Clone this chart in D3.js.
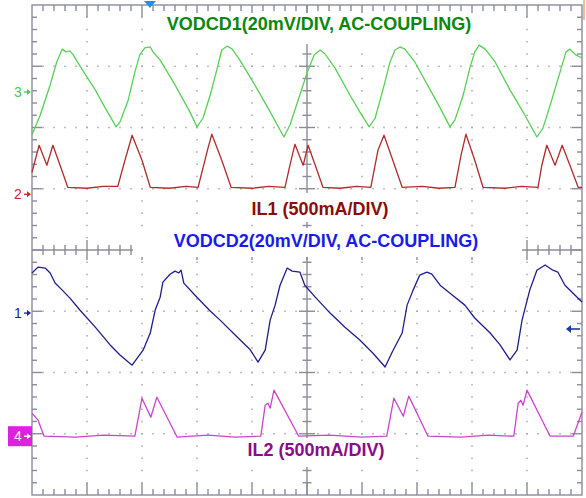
<!DOCTYPE html>
<html lang="en">
<head>
<meta charset="UTF-8">
<title>VODCD / IL scope capture</title>
<script src="https://d3js.org/d3.v7.min.js"></script>
<style>
  body { margin: 0; background: #fff; }
  svg { display: block; font-family: "Liberation Sans", Arial, sans-serif; }
  .lbl { font-weight: bold; font-size: 18px; text-anchor: middle; }
  .trace { fill: none; stroke-width: 1.3px; stroke-linejoin: round; }
</style>
</head>
<body>
<div id="scope"></div>
<script>
// time in divisions (10 div on screen), values relative to each channel marker
// CH3 VODCD1, mV
const ch3Time = [0, 0.15, 0.33, 0.45, 0.55, 0.62, 0.69, 0.75, 0.87, 1.15, 1.33, 1.53, 1.6, 1.75, 1.87, 1.96, 2.05, 2.15, 2.2, 2.33,
  2.6, 2.87, 3.0, 3.11, 3.24, 3.36, 3.45, 3.55, 3.64, 3.78, 4.05, 4.33, 4.58, 4.69, 4.84, 5.0, 5.13, 5.24, 5.33, 5.51,
  5.78, 5.96, 6.13, 6.24, 6.38, 6.51, 6.6, 6.69, 6.78, 6.96, 7.24, 7.42, 7.6, 7.69, 7.84, 7.96, 8.05, 8.13, 8.24, 8.42,
  8.69, 8.96, 9.18, 9.29, 9.45, 9.6, 9.71, 9.78, 9.89, 10];
const ch3mV = [-14.0, -7.5, 2.3, 9.8, 14.0, 13.1, 13.4, 12.1, 8.5, 0.7, -5.2, -11.4, -9.8, -2.6, 6.5, 12.1, 14.4, 14.7, 13.1, 10.4,
  2.3, -6.5, -11.4, -8.5, -1.0, 7.2, 13.7, 15.0, 14.0, 10.4, 2.3, -6.5, -14.7, -10.8, -2.6, 6.2, 12.1, 13.7, 12.4, 7.8,
  -1.0, -6.5, -11.4, -8.5, 0.7, 9.8, 13.7, 14.7, 14.0, 9.8, 0.7, -5.2, -11.4, -9.1, -1.0, 7.8, 13.1, 15.3, 14.0, 9.8,
  0.7, -7.5, -14.7, -11.8, -2.6, 6.5, 13.1, 14.0, 12.1, 11.1];

// CH2 IL1, mA
const ch2Time = [0, 0.13, 0.2, 0.27, 0.38, 0.51, 0.65, 1.0, 1.3, 1.56, 1.69, 1.82, 2.0, 2.15, 2.5, 2.8, 3.02, 3.2, 3.27, 3.45,
  3.62, 4.0, 4.3, 4.6, 4.69, 4.78, 4.93, 5.02, 5.15, 5.29, 5.6, 5.9, 6.16, 6.29, 6.4, 6.56, 6.73, 7.1, 7.4, 7.69,
  7.8, 7.89, 8.05, 8.2, 8.6, 8.9, 9.2, 9.27, 9.36, 9.51, 9.64, 9.78, 9.93, 10];
const ch2mA = [180, 400, 318, 237, 400, 237, 57, 49, 65, 65, 278, 482, 278, 57, 49, 65, 57, 376, 490, 278,
  57, 49, 65, 57, 237, 408, 237, 400, 237, 57, 49, 65, 57, 359, 482, 278, 57, 65, 49, 57,
  318, 490, 278, 57, 49, 65, 57, 237, 400, 237, 400, 237, 57, 57];

// CH1 VODCD2, mV
const ch1Time = [0, 0.11, 0.24, 0.33, 0.42, 0.55, 0.69, 0.87, 1.15, 1.42, 1.6, 1.75, 1.82, 2.02, 2.15, 2.24, 2.33, 2.38, 2.51, 2.6,
  2.67, 2.71, 2.76, 2.96, 3.24, 3.42, 3.73, 3.96, 4.11, 4.24, 4.33, 4.42, 4.51, 4.64, 4.73, 4.87, 4.96, 5.15, 5.42, 5.69,
  5.96, 6.2, 6.42, 6.55, 6.73, 6.82, 6.93, 7.05, 7.18, 7.27, 7.42, 7.64, 7.87, 8.05, 8.33, 8.51, 8.69, 8.82, 8.91, 9.05,
  9.18, 9.33, 9.47, 9.56, 9.69, 9.87, 10];
const ch1mV = [13.1, 15.0, 14.7, 13.1, 9.8, 7.5, 4.9, 1.0, -4.6, -10.4, -13.7, -16.0, -17.0, -12.1, -6.5, 1.0, 5.2, 10.1, 12.7, 13.7,
  13.1, 14.0, 9.8, 5.9, 0.7, -2.3, -7.8, -11.8, -16.0, -12.1, -2.3, 2.6, 9.1, 14.7, 13.7, 13.4, 9.1, 5.2, 0, -4.6,
  -8.8, -13.1, -17.6, -12.7, -6.5, 2.6, 7.5, 12.4, 13.4, 12.7, 9.1, 5.9, 2.6, -1.6, -6.5, -10.4, -15.3, -12.1, -2.3, 7.5,
  14.0, 15.7, 14.0, 13.4, 9.1, 5.9, 3.6];

// CH4 IL2, mA
const ch4Time = [0, 0.11, 0.22, 0.8, 1.3, 1.87, 2.0, 2.16, 2.27, 2.64, 3.2, 3.7, 4.16, 4.24, 4.29, 4.33, 4.4, 4.85, 5.4, 6.0,
  6.45, 6.58, 6.75, 6.85, 7.2, 7.8, 8.3, 8.76, 8.84, 8.89, 8.93, 9.0, 9.42, 9.84, 10];
const ch4mA = [188, 131, 0, -8, 8, 0, 310, 155, 318, -8, 8, -8, 0, 253, 269, 229, 376, 0, 8, -8,
  0, 310, 163, 327, 0, -8, 8, 0, 269, 294, 253, 376, 0, 0, 196];

const chNames = ["VODCD1(20mV/DIV, AC-COUPLING)", "IL1 (500mA/DIV)", "VODCD2(20mV/DIV, AC-COUPLING)", "IL2 (500mA/DIV)"];
const chNumbers = ["3", "2", "1", "4"];
const chOffsetDiv = [2.58, 0.91, -1.03, -3.04];
const chPerDiv = [20, 500, 20, 500];

const width = 586, height = 498;
const x = d3.scaleLinear().domain([0, 10]).range([32, 582]);
const y = d3.scaleLinear().domain([-4, 4]).range([495, 5]);

const svg = d3.select("#scope").append("svg")
    .attr("width", width)
    .attr("height", height);

const gridCol = "#8a8c9c";
const dotCol = "#a6a6ae";

// dotted graticule
const dots = svg.append("g").attr("fill", dotCol);
for (let j = -3; j <= 3; j++) {
    if (j === 0) continue;
    for (let k = 1; k < 50; k++) {
        dots.append("rect").attr("x", x(k / 5) - 0.75).attr("y", y(j) - 0.75).attr("width", 1.5).attr("height", 1.5);
    }
}
for (let i = 1; i <= 9; i++) {
    if (i === 5) continue;
    for (let m = 1; m < 40; m++) {
        dots.append("rect").attr("x", x(i) - 0.75).attr("y", y(-4 + m / 5) - 0.75).attr("width", 1.5).attr("height", 1.5);
    }
}

// frame, centre axes and ticks
const frame = svg.append("g").attr("stroke", gridCol).attr("stroke-width", 1.4).attr("fill", "none");
frame.append("rect").attr("x", x(0)).attr("y", y(4)).attr("width", x(10) - x(0)).attr("height", y(-4) - y(4));
frame.append("line").attr("x1", x(5)).attr("x2", x(5)).attr("y1", y(4)).attr("y2", y(-4));
frame.append("line").attr("x1", x(0)).attr("x2", x(10)).attr("y1", y(0)).attr("y2", y(0));
for (let k = 1; k < 50; k++) {
    const major = k % 5 === 0;
    const xx = x(k / 5);
    const a = major ? 12 : 6;
    frame.append("line").attr("x1", xx).attr("x2", xx).attr("y1", y(4)).attr("y2", y(4) + a);
    frame.append("line").attr("x1", xx).attr("x2", xx).attr("y1", y(-4)).attr("y2", y(-4) - a);
    const c = major ? 10 : 5;
    frame.append("line").attr("x1", xx).attr("x2", xx).attr("y1", y(0) - c).attr("y2", y(0) + c);
}
for (let m = 1; m < 40; m++) {
    const major = m % 5 === 0;
    const yy = y(-4 + m / 5);
    const a = major ? 10 : 5;
    frame.append("line").attr("x1", x(0)).attr("x2", x(0) + a).attr("y1", yy).attr("y2", yy);
    frame.append("line").attr("x1", x(10)).attr("x2", x(10) - a).attr("y1", yy).attr("y2", yy);
    const c = major ? 8 : 4.5;
    frame.append("line").attr("x1", x(5) - c).attr("x2", x(5) + c).attr("y1", yy).attr("y2", yy);
}

// white label panels hide the graticule under the titles
const panels = [[158, 13, 328, 31], [236, 193, 168, 29], [133, 228, 389, 29], [234, 438, 168, 29]];
svg.append("g").selectAll("rect").data(panels).join("rect")
    .attr("x", d => d[0]).attr("y", d => d[1]).attr("width", d => d[2]).attr("height", d => d[3])
    .attr("fill", "#fff");

// traces
const traces = [
    {t: ch3Time, v: ch3mV, color: "#58d058"},
    {t: ch2Time, v: ch2mA, color: "#b02c2c"},
    {t: ch1Time, v: ch1mV, color: "#1e1e8e"},
    {t: ch4Time, v: ch4mA, color: "#cc44cc"}
];
traces.forEach((tr, i) => {
    const pts = tr.t.map((t, n) => [t, tr.v[n]]);
    const line = d3.line()
        .x(d => x(d[0]))
        .y(d => y(chOffsetDiv[i] + d[1] / chPerDiv[i]));
    svg.append("path").datum(pts).attr("class", "trace").attr("stroke", tr.color).attr("d", line);
});

// channel titles
const titleCols = ["#0b870b", "#8a0c0c", "#1a1aee", "#8a0c8a"];
const titlePos = [[319, 30], [320, 215], [326, 247], [316, 456]];
chNames.forEach((s, i) => {
    svg.append("text").attr("class", "lbl")
        .attr("x", titlePos[i][0]).attr("y", titlePos[i][1])
        .attr("fill", titleCols[i]).text(s);
});

// ground / reference markers on the left
const markCols = ["#4cc84c", "#cc2a2a", "#22228e", "#e020e0"];
chNumbers.forEach((s, i) => {
    const yy = y(chOffsetDiv[i]);
    const g = svg.append("g");
    let fg = markCols[i];
    if (s === "4") {
        g.append("rect").attr("x", 8).attr("y", yy - 10).attr("width", 24).attr("height", 20).attr("fill", markCols[i]);
        fg = "#fff";
    }
    g.append("text").attr("x", 18).attr("y", yy + 5).attr("text-anchor", "middle")
        .attr("font-size", 14).attr("fill", fg).text(s);
    g.append("line").attr("x1", 24).attr("x2", 29).attr("y1", yy).attr("y2", yy).attr("stroke", fg).attr("stroke-width", 1.3);
    g.append("path").attr("d", `M31,${yy}L27,${yy - 3}L27,${yy + 3}Z`).attr("fill", fg);
});

// trigger marker on top and level arrow on the right
svg.append("path").attr("d", "M144,1L156,1L150,8Z").attr("fill", "#2a8ee0");
svg.append("line").attr("x1", 584).attr("x2", 584).attr("y1", 0).attr("y2", 20).attr("stroke", "#e8c0a0").attr("stroke-width", 2);
const trigY = 329;
svg.append("line").attr("x1", 570).attr("x2", 580).attr("y1", trigY).attr("y2", trigY).attr("stroke", "#1a3aa0").attr("stroke-width", 1.6);
svg.append("path").attr("d", `M566,${trigY}L571,${trigY - 4}L571,${trigY + 4}Z`).attr("fill", "#1a3aa0");
</script>
</body>
</html>
